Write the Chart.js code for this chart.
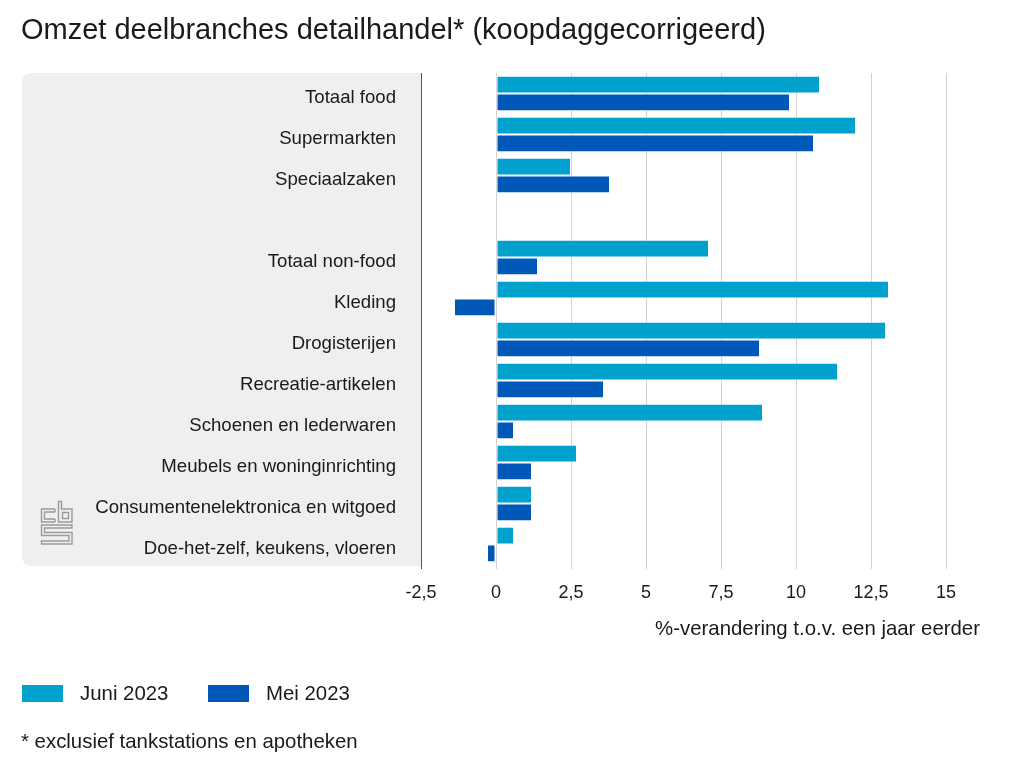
<!DOCTYPE html>
<html lang="nl">

<head>
    <meta charset="UTF-8">
    <title>Omzet deelbranches detailhandel</title>
    <style>
        body { margin: 0; background: #fff; }
    </style>
</head>

<body>
    <canvas id="grafiek" width="1024" height="768"></canvas>

    <script src="https://cdn.jsdelivr.net/npm/chart.js"></script>
    <script>
        // data
        const branches = [
            'Totaal food', 'Supermarkten', 'Speciaalzaken', '',
            'Totaal non-food', 'Kleding', 'Drogisterijen', 'Recreatie-artikelen',
            'Schoenen en lederwaren', 'Meubels en woninginrichting',
            'Consumentenelektronica en witgoed', 'Doe-het-zelf, keukens, vloeren'
        ]
        const juni2023 = [10.8, 12.0, 2.5, null, 7.1, 13.1, 13.0, 11.4, 8.9, 2.7, 1.2, 0.6]
        const mei2023 = [9.8, 10.6, 3.8, null, 1.4, -1.4, 8.8, 3.6, 0.6, 1.2, 1.2, -0.3]
        const xTicks = [-2.5, 0, 2.5, 5, 7.5, 10, 12.5, 15]

        const titel = 'Omzet deelbranches detailhandel* (koopdaggecorrigeerd)'
        const asTitel = '%-verandering t.o.v. een jaar eerder'
        const voetnoot = '* exclusief tankstations en apotheken'

        const lettertype = '"Liberation Sans", Arial, Helvetica, sans-serif'
        const tekstKleur = '#1a1a1a'

        function rondeRechthoek(ctx, x, y, w, h, r) {
            ctx.beginPath()
            ctx.moveTo(x + r, y)
            ctx.lineTo(x + w, y)
            ctx.lineTo(x + w, y + h)
            ctx.lineTo(x + r, y + h)
            ctx.quadraticCurveTo(x, y + h, x, y + h - r)
            ctx.lineTo(x, y + r)
            ctx.quadraticCurveTo(x, y, x + r, y)
            ctx.closePath()
        }

        function tekenLogo(ctx, x, y) {
            // cbs-logo, grijze lijntjes
            ctx.save()
            ctx.strokeStyle = '#9a9a9a'
            ctx.lineWidth = 1.4
            ctx.translate(x, y)
            // c
            ctx.beginPath()
            ctx.moveTo(14, 8); ctx.lineTo(0.5, 8); ctx.lineTo(0.5, 21); ctx.lineTo(14, 21)
            ctx.moveTo(14, 11); ctx.lineTo(3.5, 11); ctx.lineTo(3.5, 18); ctx.lineTo(14, 18)
            ctx.moveTo(14, 8); ctx.lineTo(14, 11)
            ctx.moveTo(14, 18); ctx.lineTo(14, 21)
            // b
            ctx.moveTo(17.5, 0.5); ctx.lineTo(17.5, 21); ctx.lineTo(31, 21); ctx.lineTo(31, 8); ctx.lineTo(20.5, 8); ctx.lineTo(20.5, 0.5); ctx.closePath()
            ctx.rect(21.5, 11.5, 6, 6)
            // s
            ctx.moveTo(0.5, 24); ctx.lineTo(31, 24); ctx.lineTo(31, 27); ctx.lineTo(3.5, 27); ctx.lineTo(3.5, 31.5)
            ctx.lineTo(31, 31.5); ctx.lineTo(31, 43); ctx.lineTo(0.5, 43); ctx.lineTo(0.5, 40); ctx.lineTo(28, 40)
            ctx.lineTo(28, 34.5); ctx.lineTo(0.5, 34.5); ctx.closePath()
            ctx.stroke()
            ctx.restore()
        }

        const extraTekening = {
            id: 'extraTekening',
            beforeDraw(chart) {
                const ctx = chart.ctx
                const ca = chart.chartArea
                ctx.save()
                ctx.fillStyle = '#fff'
                ctx.fillRect(0, 0, chart.width, chart.height)
                ctx.fillStyle = '#efefef'
                rondeRechthoek(ctx, 22, ca.top, ca.left - 22, ca.bottom - ca.top + 1, 10)
                ctx.fill()
                ctx.restore()
                tekenLogo(ctx, 41, 501)
            },
            afterDraw(chart) {
                const ctx = chart.ctx
                ctx.save()
                ctx.fillStyle = tekstKleur
                ctx.textBaseline = 'middle'

                ctx.font = '29px ' + lettertype
                ctx.fillText(titel, 21, 31)

                ctx.font = '20.4px ' + lettertype
                ctx.textAlign = 'right'
                ctx.fillText(asTitel, 980, 629)

                // legenda
                ctx.textAlign = 'left'
                let x = 22
                chart.data.datasets.forEach((ds) => {
                    ctx.fillStyle = ds.backgroundColor
                    ctx.fillRect(x, 685, 41, 17)
                    ctx.fillStyle = tekstKleur
                    ctx.fillText(ds.label, x + 58, 694)
                    x += 186
                })

                ctx.fillText(voetnoot, 21, 742)
                ctx.restore()
            }
        }

        new Chart(document.querySelector('#grafiek'), {
            type: 'bar',
            data: {
                labels: branches,
                datasets: [{
                    label: 'Juni 2023',
                    data: juni2023,
                    backgroundColor: '#00a1cd',
                    borderColor: 'rgba(255,255,255,0.7)',
                    borderWidth: 1,
                    borderSkipped: false
                }, {
                    label: 'Mei 2023',
                    data: mei2023,
                    backgroundColor: '#0058b8',
                    borderColor: 'rgba(255,255,255,0.7)',
                    borderWidth: 1,
                    borderSkipped: false
                }]
            },
            options: {
                indexAxis: 'y',
                responsive: false,
                animation: false,
                layout: { padding: { top: 73, right: 78, bottom: 163, left: 22 } },
                categoryPercentage: 0.86,
                barPercentage: 1,
                plugins: {
                    legend: { display: false },
                    tooltip: { enabled: false }
                },
                scales: {
                    x: {
                        min: -2.5,
                        max: 15,
                        afterBuildTicks: (scale) => { scale.ticks = xTicks.map(v => ({ value: v })) },
                        afterFit: (scale) => { scale.height = 40 },
                        border: { display: false },
                        grid: {
                            color: (c) => c.tick && c.tick.value === -2.5 ? '#555' : '#d2d2d2',
                            tickLength: 4
                        },
                        ticks: {
                            padding: 13,
                            color: tekstKleur,
                            font: { family: lettertype, size: 18 },
                            callback: (v) => String(v).replace('.', ',')
                        }
                    },
                    y: {
                        afterFit: (scale) => { scale.width = 399 },
                        border: { display: false },
                        grid: { display: false, drawTicks: false },
                        ticks: {
                            padding: 25,
                            labelOffset: 4,
                            color: tekstKleur,
                            font: { family: lettertype, size: 18.6 }
                        }
                    }
                }
            },
            plugins: [extraTekening]
        })
    </script>
</body>

</html>
